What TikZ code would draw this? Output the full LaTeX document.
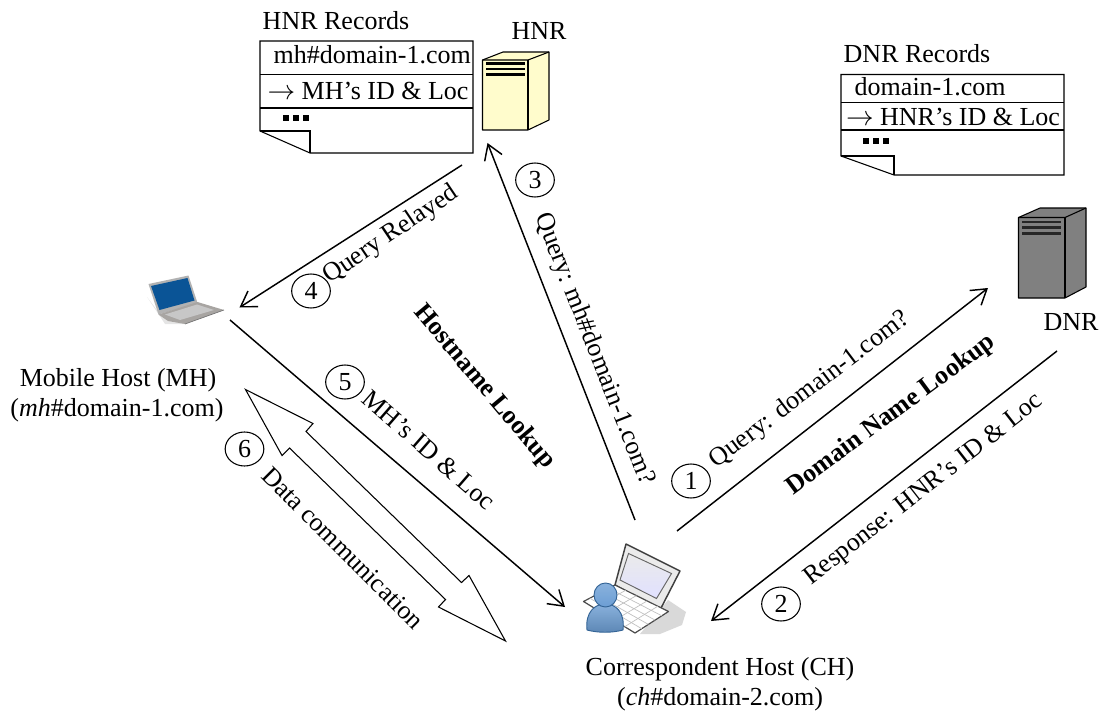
\documentclass[tikz,border=0pt]{standalone}
\usepackage{fontspec}
\setmainfont{Liberation Serif}
\usetikzlibrary{calc}
\usetikzlibrary{arrows.meta}
\usetikzlibrary{shapes.geometric}
\definecolor{lcdblue}{RGB}{10,84,150}
\definecolor{lapgray}{RGB}{168,165,162}
\definecolor{userblue}{RGB}{108,158,212}
\definecolor{userdark}{RGB}{52,100,150}
\newcommand{\moredots}{\rule{4.5pt}{4.5pt}\hspace{3pt}\rule{4.5pt}{4.5pt}\hspace{3pt}\rule{4.5pt}{4.5pt}}
\begin{document}
\begin{tikzpicture}[x=0.75pt, y=-0.75pt, >={Straight Barb[length=11pt, width=14pt, line width=1.1pt]}, line width=1.1pt, font=\fontsize{19.5}{23}\selectfont]
		\tikzstyle{lbl}=[inner sep=0pt, align=center]
		\tikzstyle{stepnum}=[draw=black, ellipse, minimum width=29pt, minimum height=25.5pt, inner sep=0pt, line width=0.8pt]
		\tikzstyle{rec}=[draw=black, line width=0.8pt, line join=miter]
		\tikzstyle{msg}=[->, line width=1.1pt]
		\tikzstyle{vent}=[draw=black, line width=1.6pt]
		\useasboundingbox (0,0) rectangle (1099,713);

		% record tables
		\draw[rec] (260,41) -- (473,41) -- (473,153) -- (310,153) -- (260,131) -- cycle;
		\draw[rec] (260,74.5) -- (473,74.5);
		\draw[rec] (260,108) -- (473,108);
		\draw[rec] (260,131) -- (310,131) -- (310,153);
		\node[lbl, anchor=west] (hnrrow1) at (273,55) {mh\#domain-1.com};
		\node[lbl] (hnrrow2) at (368,91) {$\rightarrow$ MH’s ID \& Loc};
		\node[lbl, anchor=west] (hnrdots) at (282,118) {\moredots};
		\node[lbl, anchor=west] (hnrrec) at (262,21) {HNR Records};

		\draw[rec] (841,74.5) -- (1064,74.5) -- (1064,175) -- (894,175) -- (841,156) -- cycle;
		\draw[rec] (841,102.5) -- (1064,102.5);
		\draw[rec] (841,130) -- (1064,130);
		\draw[rec] (841,156) -- (894,156) -- (894,175);
		\node[lbl, anchor=west] (dnrrow1) at (854,87) {domain-1.com};
		\node[lbl] (dnrrow2) at (953,117) {$\rightarrow$ HNR’s ID \& Loc};
		\node[lbl, anchor=west] (dnrdots) at (862,141) {\moredots};
		\node[lbl] (dnrrec) at (917,54) {DNR Records};

		% servers
		\draw[fill=yellow!20, line width=0.8pt, line join=round] (482.5,60) -- (503,52) -- (549,52) -- (549,120) -- (528,130) -- (482.5,130) -- cycle;
		\draw[line width=0.8pt] (482.5,60) -- (528,60) -- (549,52);
		\draw[line width=0.8pt] (528,60) -- (528,130);
		\foreach \y in {63.5,69,74.5} \draw[vent] (486,\y) -- (525,\y);
		\node[lbl] (hnr) at (539,31) {HNR};

		\draw[fill=black!50, line width=0.8pt, line join=round] (1018.5,217.5) -- (1040,208) -- (1086,208) -- (1086,287) -- (1065,298) -- (1018.5,298) -- cycle;
		\draw[line width=0.8pt] (1018.5,217.5) -- (1065,217.5) -- (1086,208);
		\draw[line width=0.8pt] (1065,217.5) -- (1065,298);
		\foreach \y in {222,227.5,233.5} \draw[vent, draw=black!85] (1022,\y) -- (1061,\y);
		\node[lbl] (dnr) at (1071,322) {DNR};

		% mobile host laptop
		\fill[black!10] (147,297) -- (160,314) -- (185,324) -- (165,324) -- cycle;
		\fill[black!30] (148.5,284) -- (188.5,275.5) -- (197.5,303) -- (158.5,314.5) -- cycle;
		\fill[lcdblue] (151,286) -- (187.5,278) -- (194.5,300.5) -- (159.5,310) -- cycle;
		\fill[lapgray] (158.5,314.5) -- (197.5,302) -- (224,310) -- (185,324) -- (168,321) -- cycle;
		\fill[black!22] (165,314.5) -- (197,304.5) -- (214,310) -- (180,320) -- cycle;
		\draw[black!55, line width=0.5pt] (185,324) -- (224,310);
		\node[lbl] (mh) at (118,380) {Mobile Host (MH)};
		\node[lbl] (mhname) at (117,410) {(\textit{mh}\#domain-1.com)};

		% correspondent host laptop
		\fill[black!15] (640,634) -- (668,600) -- (686,612) -- (682,625) -- (660,634) -- cycle;
		\draw[black!75, fill=black!8, line width=1.1pt, line join=round] (615,585) -- (626,544) -- (680,571) -- (660,610) -- cycle;
		\draw[black!60, top color=black!8, bottom color=blue!12, line width=0.7pt] (628.5,553.5) -- (671.5,573.5) -- (656.5,598.5) -- (620,580) -- cycle;
		\draw[black!70, fill=white, line width=0.9pt, line join=round] (615,585) -- (668.5,611.5) -- (635,633) -- (583.5,601.5) -- cycle;
		\foreach \t in {0.2,0.4,0.6,0.8} \draw[black!25, line width=0.5pt] ($(615,585)!\t!(583.5,601.5)$) -- ($(668.5,611.5)!\t!(635,633)$);
		\foreach \t in {0.2,0.4,0.6,0.8} \draw[black!25, line width=0.5pt] ($(615,585)!\t!(668.5,611.5)$) -- ($(583.5,601.5)!\t!(635,633)$);
		\draw[userdark, top color=userblue!80!white, bottom color=userblue!85!black, line width=0.7pt] (587,630) .. controls (585,612) and (595,604) .. (605,604) .. controls (616,604) and (625,612) .. (623,630) .. controls (612,633) and (598,633) .. (587,630) -- cycle;
		\draw[userdark, top color=userblue!80!white, bottom color=userblue, line width=0.7pt] (605.5,595) ellipse (11.5 and 12);
		\node[lbl] (ch) at (720,669) {Correspondent Host (CH)};
		\node[lbl] (chname) at (720,699) {(\textit{ch}\#domain-2.com)};

		% connector ends
		\coordinate (chup) at (635,520);
		\coordinate (hnrin) at (487.5,143);
		\coordinate (hnrout) at (462,165);
		\coordinate (mhin) at (239.5,307.5);
		\coordinate (mhout) at (230,320);
		\coordinate (chin) at (565,607);
		\coordinate (chright) at (677,531);
		\coordinate (dnrin) at (988,288);
		\coordinate (dnrout) at (1057,351);
		\coordinate (chlow) at (711,621);

		\path[msg] (chright) edge (dnrin);
		\path[msg] (dnrout) edge (chlow);
		\path[msg] (chup) edge (hnrin);
		\path[msg] (hnrout) edge (mhin);
		\path[msg] (mhout) edge (chin);

		% data arrow
		\draw[line width=0.8pt, line join=miter] (245.5,389.5) -- (313,423.5) -- (306,431.5) -- (461.5,582.5) -- (469,575.5) -- (505.5,641) -- (438.5,607) -- (445.5,599.5) -- (289.5,448) -- (282,455.5) -- cycle;

		% step numbers
		\node[stepnum] (n1) at (691,481) {1};
		\node[stepnum] (n2) at (781,604) {2};
		\node[stepnum] (n3) at (535,180) {3};
		\node[stepnum] (n4) at (311,291) {4};
		\node[stepnum] (n5) at (345,382) {5};
		\node[stepnum] (n6) at (244.5,449) {6};

		% labels on the connectors
		\node[lbl, rotate=37] (q1) at (810,390) {Query: domain-1.com?};
		\node[lbl, rotate=36.5] (dnl) at (891,415) {\textbf{Domain Name Lookup}};
		\node[lbl, rotate=38] (r2) at (924,490) {Response: HNR’s ID \& Loc};
		\node[lbl, rotate=-68.5] (q3) at (594,349) {Query: mh\#domain-1.com?};
		\node[lbl, rotate=34] (q4) at (391,235) {Query Relayed};
		\node[lbl, rotate=-50] (hl) at (484,387) {\textbf{Hostname Lookup}};
		\node[lbl, rotate=-41] (r5) at (429,450) {MH’s ID \& Loc};
		\node[lbl, rotate=-45] (dc) at (343,548) {Data communication};
\end{tikzpicture}
\end{document}
